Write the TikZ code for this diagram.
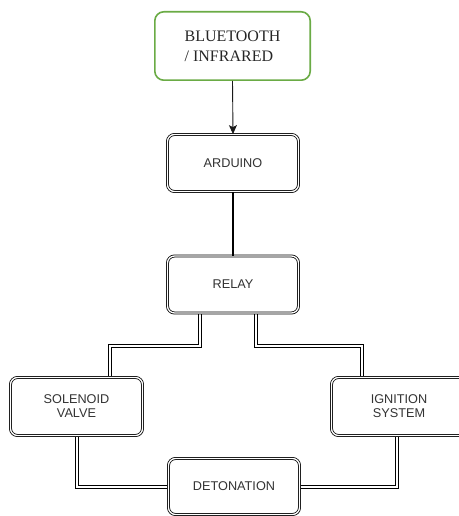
\documentclass[tikz,border=0pt]{standalone}
\usepackage{fontspec}
\setmainfont{Liberation Sans}
\newfontfamily\btfont{Liberation Serif}
\usetikzlibrary{arrows.meta,backgrounds}
\definecolor{boxgreen}{HTML}{6AAB45}
\definecolor{textgray}{HTML}{333333}

\begin{document}
\begin{tikzpicture}[x=1pt, y=-1pt,
  unit/.style={draw=black, double=white, double distance=1.3pt, line width=0.8pt, fill=white, rounded corners=7pt, minimum width=131pt, minimum height=57pt, inner sep=0pt, text=textgray, align=center, font=\fontsize{12.7}{14}\selectfont},
  source/.style={draw=boxgreen, line width=1.6pt, rounded corners=9pt, minimum width=155.4pt, minimum height=68.4pt, align=left, text=black!85, font=\btfont\fontsize{16}{19.6}\selectfont},
  wire/.style={draw=black, double=white, double distance=2pt, line width=1pt}]
\useasboundingbox (0,0) rectangle (458,516);

\node[source] (bt) at (232.5,46) {BLUETOOTH\\/ INFRARED};
\node[unit] (ard) at (233,163) {ARDUINO};
\node[unit] (relay) at (233,284.5) {RELAY};
\node[unit, minimum width=132pt, minimum height=58pt] (sol) at (76.5,406.5) {SOLENOID\\VALVE};
\node[unit, minimum width=135pt, minimum height=58pt] (ign) at (399,406.5) {IGNITION\\SYSTEM};
\node[unit, minimum height=56pt] (det) at (234,486.5) {DETONATION};

\draw[-{Stealth[length=9pt,width=8pt,inset=2pt]}, line width=0.9pt, black!90] (bt.south) -- (ard.north);
\draw[line width=1.5pt] (ard.south) -- (relay.north);

\begin{scope}[on background layer]
\draw[wire] ([xshift=-33pt]relay.south) -- ++(0,33) -| ([xshift=33.5pt]sol.north);
\draw[wire] ([xshift=23pt]relay.south) -- ++(0,33) -| ([xshift=-37pt]ign.north);
\draw[wire] ([xshift=0.5pt]sol.south) |- (det.west);
\draw[wire] ([xshift=-2pt]ign.south) |- (det.east);
\end{scope}
\end{tikzpicture}
\end{document}
